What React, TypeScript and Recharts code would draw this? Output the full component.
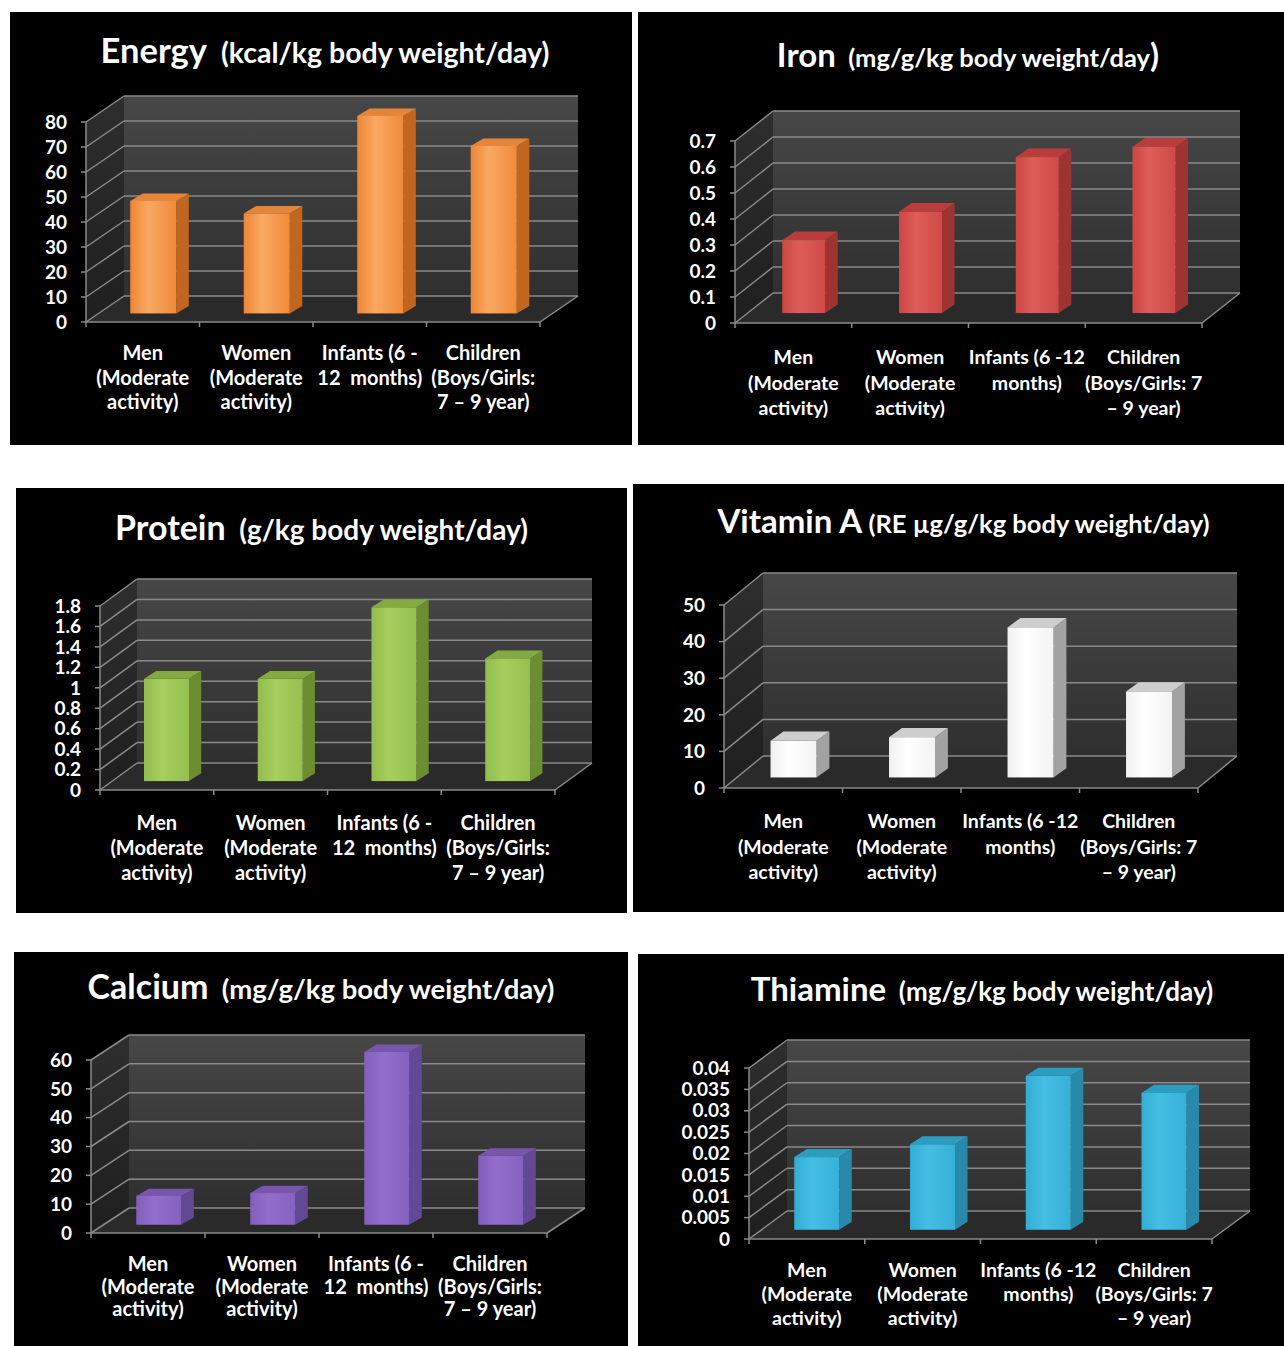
import React from 'react';
import { BarChart, Bar, XAxis, YAxis, CartesianGrid, ReferenceArea } from 'recharts';

const FONT = "Lato, 'Open Sans', 'DejaVu Sans', sans-serif";

// ---------- data ----------
const categoriesA = ['Men\n(Moderate\nactivity)', 'Women\n(Moderate\nactivity)', 'Infants (6 -\n12  months)', 'Children\n(Boys/Girls:\n7 – 9 year)'];
const categoriesB = ['Men\n(Moderate\nactivity)', 'Women\n(Moderate\nactivity)', 'Infants (6 -12\nmonths)', 'Children\n(Boys/Girls: 7\n– 9 year)'];

const energyValues = [45, 40, 79, 67];
const energyTicks = [0, 10, 20, 30, 40, 50, 60, 70, 80];

const ironValues = [0.28, 0.39, 0.6, 0.64];
const ironTicks = [0, 0.1, 0.2, 0.3, 0.4, 0.5, 0.6, 0.7];

const proteinValues = [1.0, 1.0, 1.7, 1.2];
const proteinTicks = [0, 0.2, 0.4, 0.6, 0.8, 1, 1.2, 1.4, 1.6, 1.8];

const vitaminAValues = [10, 11, 41, 23.5];
const vitaminATicks = [0, 10, 20, 30, 40, 50];

const calciumValues = [10, 11, 60, 24];
const calciumTicks = [0, 10, 20, 30, 40, 50, 60];

const thiamineValues = [0.017, 0.02, 0.036, 0.032];
const thiamineTicks = [0, 0.005, 0.01, 0.015, 0.02, 0.025, 0.03, 0.035, 0.04];

// ---------- layout / style config ----------
const YW = 70;
const XH = 80;
const TICK_FS = 19;

type Panel = {
  id: string;
  title: string;
  unit: string;
  tail: string;
  categories: string[];
  values: number[];
  ticks: number[];
  colors: { f0: string; f1: string; f2: string; side: string; top: string };
  box: { l: number; t: number; w: number; h: number };
  plot: { l: number; r: number; t: number; b: number };
  dx: number;
  dy: number;
  barSize: number;
  titleY: number;
  titleDx: number;
  mainSize: number;
  unitSize: number;
  catFs: number;
  labelOffset: number;
  lineH: number;
};

const panels: Panel[] = [
  {
    id: 'energy', title: 'Energy', unit: '  (kcal/kg body weight/day)', tail: '',
    categories: categoriesA, values: energyValues, ticks: energyTicks,
    colors: { f0: '#EE8636', f1: '#FBA862', f2: '#F08A3A', side: '#C0661F', top: '#E4853A' },
    box: { l: 10, t: 12, w: 622, h: 433 }, plot: { l: 86, r: 540, t: 122, b: 322 },
    dx: 38, dy: 26, barSize: 46, titleY: 50, titleDx: 4, mainSize: 34.5, unitSize: 28.5, catFs: 20, labelOffset: 38, lineH: 24.5,
  },
  {
    id: 'iron', title: 'Iron', unit: '  (mg/g/kg body weight/day', tail: ')',
    categories: categoriesB, values: ironValues, ticks: ironTicks,
    colors: { f0: '#CC4644', f1: '#DE5D59', f2: '#CF4A47', side: '#9E3432', top: '#B93D3B' },
    box: { l: 638, t: 12, w: 646, h: 433 }, plot: { l: 735, r: 1202, t: 141, b: 323 },
    dx: 38, dy: 30, barSize: 43, titleY: 54, titleDx: 7, mainSize: 33, unitSize: 25.5, catFs: 19.5, labelOffset: 41, lineH: 25.5,
  },
  {
    id: 'protein', title: 'Protein', unit: '  (g/kg body weight/day)', tail: '',
    categories: categoriesA, values: proteinValues, ticks: proteinTicks,
    colors: { f0: '#92BC4B', f1: '#A6CF60', f2: '#95BF4E', side: '#6C8D30', top: '#84AB40' },
    box: { l: 16, t: 488, w: 611, h: 425 }, plot: { l: 100, r: 555, t: 606, b: 790 },
    dx: 37, dy: 27, barSize: 45, titleY: 527, titleDx: 0, mainSize: 34, unitSize: 28, catFs: 20, labelOffset: 40, lineH: 25,
  },
  {
    id: 'vita', title: 'Vitamin A', unit: ' (RE µg/g/kg body weight/day)', tail: '',
    categories: categoriesB, values: vitaminAValues, ticks: vitaminATicks,
    colors: { f0: '#F0F0F0', f1: '#FFFFFF', f2: '#F3F3F3', side: '#A2A2A2', top: '#CECECE' },
    box: { l: 633, t: 484, w: 651, h: 428 }, plot: { l: 724, r: 1198, t: 605, b: 788 },
    dx: 39, dy: 32, barSize: 46, titleY: 520, titleDx: 5, mainSize: 33, unitSize: 25.5, catFs: 19.5, labelOffset: 40, lineH: 25.5,
  },
  {
    id: 'calcium', title: 'Calcium', unit: '  (mg/g/kg body weight/day)', tail: '',
    categories: categoriesA, values: calciumValues, ticks: calciumTicks,
    colors: { f0: '#825FBB', f1: '#936ECD', f2: '#8562BE', side: '#634893', top: '#7856AE' },
    box: { l: 14, t: 952, w: 614, h: 394 }, plot: { l: 91, r: 547, t: 1060, b: 1233 },
    dx: 38, dy: 25, barSize: 45, titleY: 986, titleDx: 0, mainSize: 34, unitSize: 27.5, catFs: 20, labelOffset: 38, lineH: 22.5,
  },
  {
    id: 'thiamine', title: 'Thiamine', unit: '  (mg/g/kg body weight/day)', tail: '',
    categories: categoriesB, values: thiamineValues, ticks: thiamineTicks,
    colors: { f0: '#33ADD5', f1: '#46BEE4', f2: '#36B0D7', side: '#2889AB', top: '#2D9CC1' },
    box: { l: 638, t: 954, w: 646, h: 392 }, plot: { l: 749, r: 1212, t: 1068, b: 1239 },
    dx: 38, dy: 28, barSize: 45, titleY: 988, titleDx: 21, mainSize: 33, unitSize: 26, catFs: 19.5, labelOffset: 38, lineH: 24,
  },
];

const GRID = '#8a8a8a';

// ---------- shapes ----------
const makeWallShape = (cfg: Panel) => (p: any) => {
  const { x, y, width: w, height: h } = p;
  if (x == null || y == null || w == null || h == null) return null;
  const { dx, dy, id, colors } = cfg;
  const n = cfg.categories.length;
  const b = y + h;
  const marks = [];
  for (let i = 0; i <= n; i++) {
    const mx = x + (w * i) / n;
    marks.push(<line key={i} x1={mx} y1={b} x2={mx} y2={b + 5} stroke={GRID} strokeWidth={1.5} />);
  }
  return (
    <g>
      <defs>
        <linearGradient id={`wall-${id}`} x1="0" y1="0" x2="0" y2="1">
          <stop offset="0" stopColor="#474747" />
          <stop offset="1" stopColor="#2f2f2f" />
        </linearGradient>
        <linearGradient id={`side-${id}`} x1="0" y1="0" x2="0" y2="1">
          <stop offset="0" stopColor="#2e2e2e" />
          <stop offset="1" stopColor="#1f1f1f" />
        </linearGradient>
        <linearGradient id={`front-${id}`} x1="0" y1="0" x2="1" y2="0">
          <stop offset="0" stopColor={colors.f0} />
          <stop offset="0.4" stopColor={colors.f1} />
          <stop offset="1" stopColor={colors.f2} />
        </linearGradient>
      </defs>
      <rect x={x + dx} y={y - dy} width={w} height={h} fill={`url(#wall-${id})`} />
      <polygon points={`${x},${y} ${x + dx},${y - dy} ${x + dx},${b - dy} ${x},${b}`} fill={`url(#side-${id})`} />
      <polygon points={`${x},${b} ${x + dx},${b - dy} ${x + w + dx},${b - dy} ${x + w},${b}`} fill="#2a2a2a" />
      <line x1={x + w} y1={b} x2={x + w + dx} y2={b - dy} stroke={GRID} strokeWidth={1.5} />
      {marks}
    </g>
  );
};

const makeGridLine = (cfg: Panel) => (p: any) => {
  const { x1, y1, x2, index } = p;
  const { dx, dy } = cfg;
  return (
    <g key={`gl-${index}`}>
      <line x1={x1 + dx} y1={y1 - dy} x2={x2 + dx} y2={y1 - dy} stroke={GRID} strokeWidth={1.5} />
      <line x1={x1} y1={y1} x2={x1 + dx} y2={y1 - dy} stroke={GRID} strokeWidth={1.5} />
    </g>
  );
};

const makeBarShape = (cfg: Panel) => (props: any) => {
  const { x, y, width, height } = props;
  if (x == null || y == null || !width || height == null) return null;
  const { dx, dy, colors, id } = cfg;
  const ox = dx * 0.27;
  const oy = dy * 0.33;
  const sx = dx * 0.33;
  const sy = dy * 0.29;
  const fx = x + ox;
  const fy = y - oy;
  return (
    <g>
      <polygon
        points={`${fx + width},${fy} ${fx + width + sx},${fy - sy} ${fx + width + sx},${fy + height - sy} ${fx + width},${fy + height}`}
        fill={colors.side}
      />
      <polygon
        points={`${fx},${fy} ${fx + sx},${fy - sy} ${fx + width + sx},${fy - sy} ${fx + width},${fy}`}
        fill={colors.top}
      />
      <rect x={fx} y={fy} width={width} height={height} fill={`url(#front-${id})`} />
    </g>
  );
};

const makeCatTick = (cfg: Panel) => (props: any) => {
  const { x, y, payload } = props;
  const lines = String(payload.value).split('\n');
  return (
    <text
      x={x}
      y={y}
      textAnchor="middle"
      fill="#ffffff"
      fontSize={cfg.catFs}
      fontWeight={700}
      fontFamily={FONT}
      style={{ whiteSpace: 'pre' }}
    >
      {lines.map((l, i) => (
        <tspan key={i} x={x} dy={i === 0 ? cfg.labelOffset : cfg.lineH}>
          {l}
        </tspan>
      ))}
    </text>
  );
};

const ChartPanel = ({ cfg }: { cfg: Panel }) => {
  const { box, plot } = cfg;
  const data = cfg.categories.map((c, i) => ({ name: c, value: cfg.values[i] }));
  const max = cfg.ticks[cfg.ticks.length - 1];
  const margin = {
    top: plot.t - box.t,
    left: plot.l - box.l - YW,
    right: box.l + box.w - plot.r,
    bottom: box.t + box.h - plot.b - XH,
  };
  return (
    <div
      style={{
        position: 'absolute',
        left: box.l,
        top: box.t,
        width: box.w,
        height: box.h,
        background: '#000000',
        overflow: 'hidden',
      }}
    >
      <div
        style={{
          position: 'absolute',
          left: cfg.titleDx,
          top: cfg.titleY - box.t,
          width: box.w,
          transform: 'translateY(-50%)',
          textAlign: 'center',
          lineHeight: 1,
          whiteSpace: 'pre',
          color: '#ffffff',
          fontFamily: FONT,
          fontWeight: 700,
        }}
      >
        <span style={{ fontSize: cfg.mainSize }}>{cfg.title}</span>
        <span style={{ fontSize: cfg.unitSize }}>{cfg.unit}</span>
        {cfg.tail ? <span style={{ fontSize: cfg.mainSize }}>{cfg.tail}</span> : null}
      </div>
      <div style={{ position: 'absolute', left: 0, top: 0 }}>
        <BarChart width={box.w} height={box.h} data={data} margin={margin}>
          <ReferenceArea y1={0} y2={max} shape={makeWallShape(cfg)} ifOverflow="visible" zIndex={-150} />
          <CartesianGrid vertical={false} horizontal={makeGridLine(cfg)} />
          <XAxis
            dataKey="name"
            interval={0}
            height={XH}
            tickLine={false}
            tickSize={0}
            tickMargin={0}
            axisLine={{ stroke: GRID, strokeWidth: 1.5 }}
            tick={makeCatTick(cfg)}
          />
          <YAxis
            type="number"
            domain={[0, max]}
            ticks={cfg.ticks}
            interval={0}
            width={YW}
            tickSize={5}
            tickMargin={14}
            axisLine={{ stroke: GRID, strokeWidth: 1.5 }}
            tickLine={{ stroke: GRID, strokeWidth: 1.5 }}
            tick={{ fill: '#ffffff', fontSize: TICK_FS, fontWeight: 700, fontFamily: FONT }}
          />
          <Bar dataKey="value" barSize={cfg.barSize} shape={makeBarShape(cfg)} isAnimationActive={false} />
        </BarChart>
      </div>
    </div>
  );
}

export default function App() {
  return (
    <div
      style={{
        position: 'absolute',
        left: 0,
        top: 0,
        width: 1284,
        height: 1346,
        background: '#ffffff',
        overflow: 'hidden',
      }}
    >
      {panels.map((p) => (
        <ChartPanel key={p.id} cfg={p} />
      ))}
    </div>
  );
}
